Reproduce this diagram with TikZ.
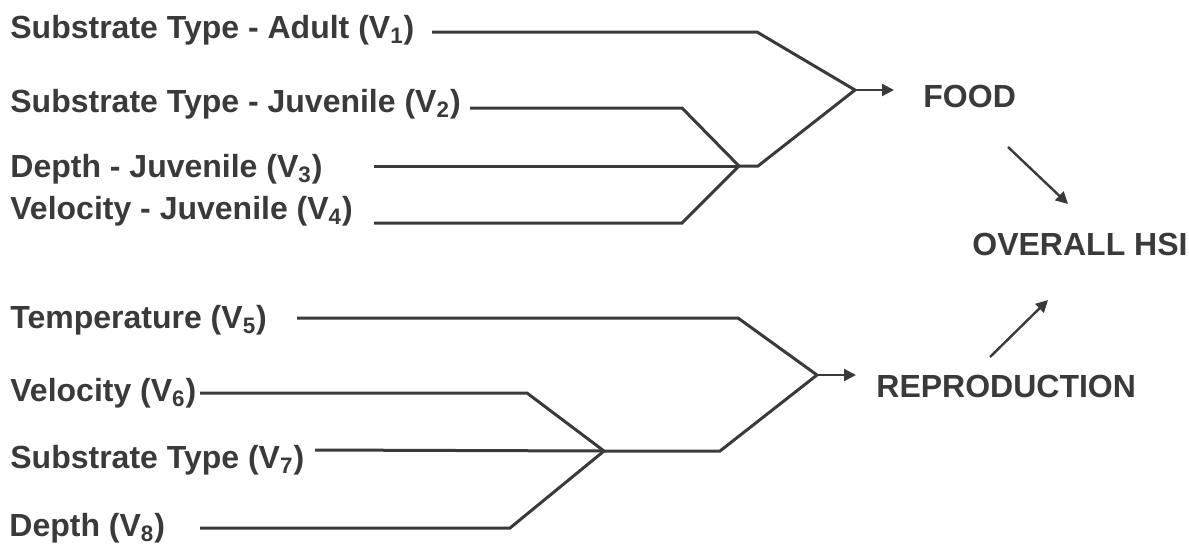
\documentclass[tikz,border=0pt]{standalone}
\usepackage{fontspec}
\setmainfont{Liberation Sans}
\usetikzlibrary{arrows.meta}
\definecolor{ink}{RGB}{58,58,58}
\newcommand{\vsub}[1]{\textsubscript{#1}}
\begin{document}
\begin{tikzpicture}[x=0.5pt,y=-0.5pt,
  lbl/.style={anchor=base west,inner sep=0pt,text=ink,font=\fontsize{16}{19}\selectfont\bfseries},
  wire/.style={draw=ink,line width=1.5pt,line join=miter},
  arr/.style={draw=ink,line width=1.2pt,-{Triangle[length=6pt,width=6pt]}}]
\useasboundingbox (0,0) rectangle (1189,543);
% labels
\node[lbl] (v1) at (10,38) {Substrate Type - Adult (V\vsub{1})};
\node[lbl] (v2) at (10,112) {Substrate Type - Juvenile (V\vsub{2})};
\node[lbl] (v3) at (10,177) {Depth - Juvenile (V\vsub{3})};
\node[lbl] (v4) at (10,219) {Velocity - Juvenile (V\vsub{4})};
\node[lbl] (v5) at (10,328) {Temperature (V\vsub{5})};
\node[lbl] (v6) at (10,401) {Velocity (V\vsub{6})};
\node[lbl] (v7) at (10,468) {Substrate Type (V\vsub{7})};
\node[lbl] (v8) at (9,536) {Depth (V\vsub{8})};
\node[lbl] (food) at (923,107) {FOOD};
\node[lbl] (hsi) at (972,255) {OVERALL HSI};
\node[lbl] (repro) at (876,397) {REPRODUCTION};
% line starts
\coordinate (s1) at (432,32);
\coordinate (s2) at (470,108);
\coordinate (s3) at (374,166);
\coordinate (s4) at (374,223);
\coordinate (s5) at (297,318);
\coordinate (s6) at (200,393);
\coordinate (s7) at (315,450);
\coordinate (s8) at (200,528);
% junctions
\coordinate (ja) at (739,166);
\coordinate (jf) at (855,90);
\coordinate (jb) at (604,451);
\coordinate (jr) at (817,375);
\coordinate (ef) at (894,90);
\coordinate (er) at (856,375);
% food tree
\draw[wire] (s1) -- (757,32) -- (jf);
\draw[wire] (s2) -- (682,108) -- (ja);
\draw[wire] (s3) -- (ja);
\draw[wire] (s4) -- (682,223) -- (ja);
\draw[wire] (ja) -- (758,166) -- (jf);
\draw[arr] (jf) -- (ef);
% reproduction tree
\draw[wire] (s5) -- (738,318) -- (jr);
\draw[wire] (s6) -- (527,393) -- (jb);
\draw[wire] (s7) -- (jb);
\draw[wire] (s8) -- (510,528) -- (jb);
\draw[wire] (jb) -- (720,451) -- (jr);
\draw[arr] (jr) -- (er);
% to overall
\coordinate (fa) at (1008,147);
\coordinate (fb) at (1068,204);
\coordinate (ra) at (990,357);
\coordinate (rb) at (1048,300);
\draw[arr] (fa) -- (fb);
\draw[arr] (ra) -- (rb);
\end{tikzpicture}
\end{document}
